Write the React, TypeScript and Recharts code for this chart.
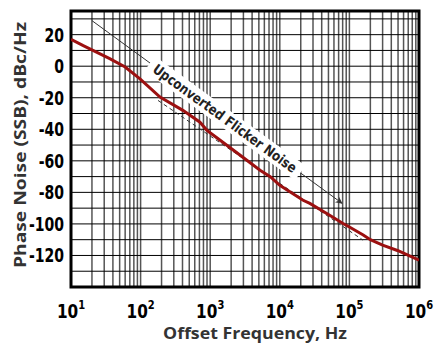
import { LineChart, Line, XAxis, YAxis, CartesianGrid, ReferenceLine, ReferenceArea, ReferenceDot } from "recharts";

// measured phase noise curve (offset Hz, dBc/Hz)
const freqs = [10, 15, 21, 36, 60, 98, 190, 405, 713, 890, 1300, 2700, 5200, 7300, 10000, 21600, 27000, 50000, 81000, 100000, 158000, 200000, 300000, 500000, 1000000];
const noise = [17, 13, 9.9, 4.8, -0.5, -8, -19.6, -28, -35.5, -40.5, -46, -56.5, -66, -70, -75.5, -85, -87, -94, -99.7, -102, -107, -110, -113.5, -117, -123];

const xGridTicks = [10, 20, 30, 40, 50, 60, 70, 80, 90, 100, 200, 300, 400, 500, 600, 700, 800, 900, 1000, 2000, 3000, 4000, 5000, 6000, 7000, 8000, 9000, 10000, 20000, 30000, 40000, 50000, 60000, 70000, 80000, 90000, 100000, 200000, 300000, 400000, 500000, 600000, 700000, 800000, 900000, 1000000];
const yGridTicks = [-140, -130, -120, -110, -100, -90, -80, -70, -60, -50, -40, -30, -20, -10, 0, 10, 20, 30];
const yLabelTicks = [-120, -100, -80, -60, -40, -20, 0, 20];

// annotation lines
const flickerArrow = [{ x: 20, y: 28.9 }, { x: 78300, y: -86.9 }];
const slopeDashed = [{ x: 178, y: -21.7 }, { x: 157000, y: -110.3 }];
const labelAt = { x: 1630, y: -33 };
const labelText = "Upconverted Flicker Noise";

const data = freqs.map((f, i) => ({ f, pn: noise[i] }));

const tickFont = "'DejaVu Sans Condensed', 'DejaVu Sans', sans-serif";
const titleFont = "'Open Sans', 'DejaVu Sans', sans-serif";

const XTick = ({ x, y, payload }: any) => {
  const v = payload.value;
  const e = Math.round(Math.log10(v));
  if (Math.abs(Math.pow(10, e) - v) > v * 1e-6) return <g />;
  return (
    <g transform={`translate(${x}, ${y + 31}) scale(0.85, 1)`}>
      <text x={0} y={0} textAnchor="middle" fontFamily={tickFont} fontWeight="bold" fontSize={20} fill="#000">
        10<tspan dy={-9} fontSize={13}>{e}</tspan>
      </text>
    </g>
  );
};

const YTick = ({ x, y, payload }: any) => {
  if (!yLabelTicks.includes(payload.value)) return <g />;
  return (
    <g transform={`translate(${x - 7}, ${y + 7}) scale(0.78, 1)`}>
      <text x={0} y={0} textAnchor="end" fontFamily={tickFont} fontWeight="bold" fontSize={20} fill="#000">
        {payload.value}
      </text>
    </g>
  );
};

const NoiseLabel = ({ cx, cy }: any) => (
  <g transform={`rotate(36, ${cx}, ${cy})`}>
    <rect x={cx - 93} y={cy - 9} width={186} height={18} fill="#fff" />
    <text x={cx} y={cy + 5} textAnchor="middle" fontFamily={tickFont} fontWeight="bold" fontSize={14} fill="#222"
      textLength={174} lengthAdjust="spacingAndGlyphs">
      {labelText}
    </text>
  </g>
);

export default function App() {
  return (
    <div style={{ position: "absolute", left: 0, top: 0, background: "#fff" }}>
      <LineChart width={435} height={343} data={data} margin={{ top: 11, right: 16, bottom: 0, left: 0 }}>
        <defs>
          <marker id="arrowHead" viewBox="0 0 10 10" refX="9" refY="5" markerWidth="10" markerHeight="7" orient="auto" markerUnits="userSpaceOnUse">
            <path d="M0,0 L10,5 L0,10 L3,5 z" fill="#333" />
          </marker>
        </defs>
        <CartesianGrid horizontal={false} stroke="#555" strokeWidth={1.5} strokeOpacity={1} />
        <CartesianGrid vertical={false} stroke="#000" strokeWidth={1} strokeOpacity={1} />
        <XAxis dataKey="f" type="number" scale="log" domain={[10, 1000000]} ticks={xGridTicks} interval={0}
          allowDataOverflow axisLine={false} tickLine={false} tickSize={0} tickMargin={0} height={56} tick={<XTick />} />
        <YAxis type="number" domain={[-140, 35]} ticks={yGridTicks} interval={0} allowDataOverflow
          axisLine={false} tickLine={false} tickSize={0} tickMargin={0} width={71} tick={<YTick />} />
        <ReferenceLine segment={slopeDashed} stroke="#333" strokeWidth={1} strokeDasharray="4 3" ifOverflow="visible" />
        <ReferenceLine segment={flickerArrow} stroke="#333" strokeWidth={1} markerEnd="url(#arrowHead)" ifOverflow="visible" />
        <ReferenceDot x={labelAt.x} y={labelAt.y} r={0} shape={<NoiseLabel />} ifOverflow="visible" />
        <Line dataKey="pn" type="linear" stroke="#9c1010" strokeWidth={3} dot={false} isAnimationActive={false} />
        <ReferenceArea x1={10} x2={1000000} y1={-140} y2={35} fill="none" stroke="#000" strokeWidth={3} ifOverflow="visible" />
        <text x={20} y={145} transform="rotate(-90, 20, 145)" textAnchor="middle" dominantBaseline="central"
          fontFamily={titleFont} fontWeight="bold" fontSize={16} fill="#333" textLength={246} lengthAdjust="spacingAndGlyphs">
          Phase Noise (SSB), dBc/Hz
        </text>
        <text x={255} y={339} textAnchor="middle" fontFamily={titleFont} fontWeight="bold" fontSize={16} fill="#333"
          textLength={184} lengthAdjust="spacingAndGlyphs">
          Offset Frequency, Hz
        </text>
      </LineChart>
    </div>
  );
}
